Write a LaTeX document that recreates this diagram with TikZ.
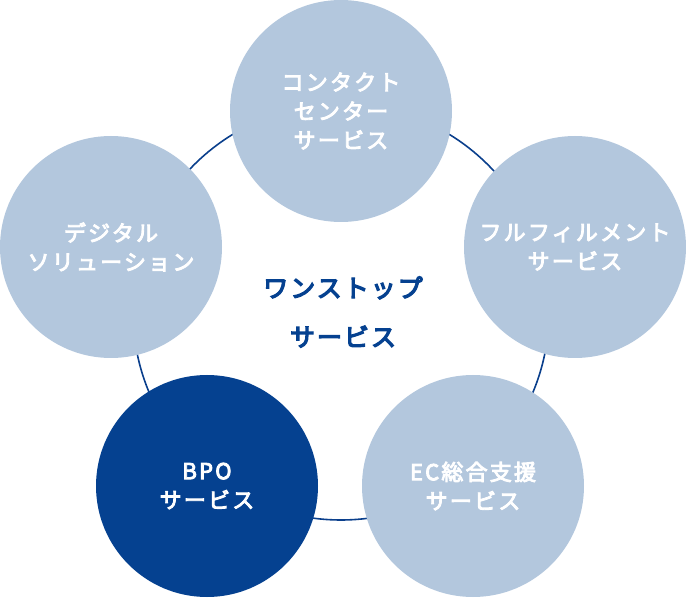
\documentclass[tikz,border=0pt]{standalone}
\usepackage{fontspec}
\newfontfamily\jpfont[LetterSpace=10,FakeBold=4]{Noto Sans CJK JP}
\newfontfamily\jpcenter[LetterSpace=8,FakeBold=5]{Noto Sans CJK JP}
\definecolor{lightblue}{HTML}{B3C7DD}
\definecolor{darkblue}{HTML}{054190}
\definecolor{ringblue}{HTML}{0A3F8C}
\tikzset{
  svc/.style={circle, fill=lightblue, minimum size=222pt, inner sep=0pt, text=white,
    align=center, font=\jpfont\fontsize{22}{29}\selectfont},
  svcdark/.style={svc, fill=darkblue},
  centertext/.style={align=center, text=darkblue, font=\jpcenter\fontsize{25}{49}\selectfont},
  ring/.style={draw=ringblue, line width=1.6pt}
}
\begin{document}
\begin{tikzpicture}[x=1pt,y=1pt]
\useasboundingbox (0,0) rectangle (686,598);
\coordinate (c) at (341,286);
\draw[ring] (c) circle[radius=208];
\node[svc] (contact) at (341,487) {コンタクト\\センター\\サービス};
\node[svc] (fulfil) at (575,351) {フルフィルメント\\サービス};
\node[svc] (digital) at (111,351) {デジタル\\ソリューション};
\node[svcdark] (bpo) at (207,112) {BPO\\サービス};
\node[svc] (ec) at (473,112) {EC総合支援\\サービス};
\node[centertext] (one) at (343,286) {ワンストップ\\サービス};
\end{tikzpicture}
\end{document}
